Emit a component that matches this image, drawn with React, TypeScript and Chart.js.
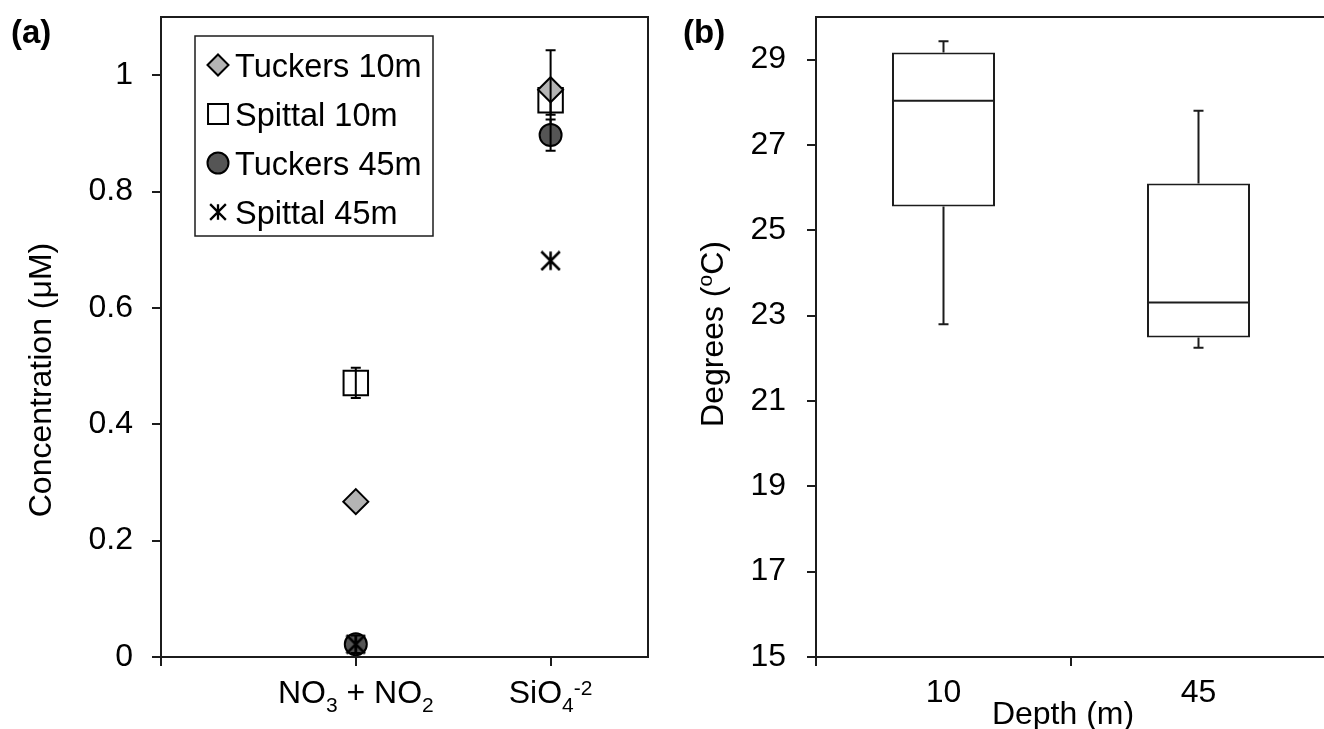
import React, { useEffect, useRef } from 'react';
import { Chart, registerables } from 'chart.js';
import { drawPoint } from 'chart.js/helpers';

Chart.register(...registerables);

const FONT_FAMILY = '"Liberation Sans", Arial, Helvetica, sans-serif';
const FONT_SIZE = 32;
const LEGEND_FONT_SIZE = 32.5;
const TAG_FONT_SIZE = 33;
const TEXT_COLOR = '#000000';
const LINE_COLOR = '#1c1c1c';

type Seg = { t: string; k: 'n' | 'sub' | 'sup'; dy?: number };

// ---- Panel (a): nutrient concentrations ----
const nutrientCategories: Seg[][] = [
  [{ t: 'NO', k: 'n' }, { t: '3', k: 'sub' }, { t: ' + NO', k: 'n' }, { t: '2', k: 'sub' }],
  [{ t: 'SiO', k: 'n' }, { t: '4', k: 'sub' }, { t: '-2', k: 'sup' }],
];
const seriesNames = ['Tuckers 10m', 'Spittal 10m', 'Tuckers 45m', 'Spittal 45m'];
const tuckers10 = [0.267, 0.975];
const tuckers10Err = [0, 0.068];
const spittal10 = [0.471, 0.957];
const spittal10Err = [0.026, 0.025];
const tuckers45 = [0.022, 0.897];
const tuckers45Err = [0.015, 0.027];
const spittal45 = [0.022, 0.681];
const spittal45Err = [0, 0];
const concTicks = [0, 0.2, 0.4, 0.6, 0.8, 1];
const concTickLabels = ['0', '0.2', '0.4', '0.6', '0.8', '1'];
const concTitle: Seg[] = [{ t: 'Concentration (\u03bcM)', k: 'n' }];

// ---- Panel (b): temperature by depth ----
const depthCategories = ['10', '45'];
const tempMin = [22.8, 22.25];
const tempQ1 = [25.56, 22.49];
const tempMedian = [28.04, 23.31];
const tempQ3 = [29.17, 26.1];
const tempMax = [29.43, 27.8];
const tempTicks = [15, 17, 19, 21, 23, 25, 27, 29];
const tempTitle: Seg[] = [{ t: 'Degrees (', k: 'n' }, { t: 'o', k: 'sup', dy: -11 }, { t: 'C)', k: 'n' }];
const depthTitle = 'Depth (m)';

const seriesValues = [tuckers10, spittal10, tuckers45, spittal45];
const seriesErrors = [tuckers10Err, spittal10Err, tuckers45Err, spittal45Err];

function asteriskMarker(size: number, lineWidth: number): HTMLCanvasElement {
  const c = document.createElement('canvas');
  c.width = size;
  c.height = size;
  const g = c.getContext('2d')!;
  g.strokeStyle = '#000';
  g.lineWidth = lineWidth;
  const h = size / 2;
  const r = h - lineWidth / 2;
  g.beginPath();
  g.moveTo(h, h - r);
  g.lineTo(h, h + r);
  g.moveTo(h - r, h - r);
  g.lineTo(h + r, h + r);
  g.moveTo(h + r, h - r);
  g.lineTo(h - r, h + r);
  g.stroke();
  return c;
}

function fontFor(k: string, size: number) {
  const s = k === 'n' ? size : Math.round(size * 0.66);
  return `${s}px ${FONT_FAMILY}`;
}

// Draws text segments centred on cx, with sub/superscript parts.
function drawRich(ctx: CanvasRenderingContext2D, segs: Seg[], cx: number, baseline: number, size: number) {
  ctx.textAlign = 'left';
  ctx.textBaseline = 'alphabetic';
  let total = 0;
  const widths = segs.map((s) => {
    ctx.font = fontFor(s.k, size);
    const w = ctx.measureText(s.t).width;
    total += w;
    return w;
  });
  let x = cx - total / 2;
  segs.forEach((s, i) => {
    ctx.font = fontFor(s.k, size);
    const dy = s.dy !== undefined ? s.dy : s.k === 'sub' ? size * 0.29 : s.k === 'sup' ? -size * 0.25 : 0;
    ctx.fillText(s.t, x, baseline + dy);
    x += widths[i];
  });
}

const markerStyles = [
  { pointStyle: 'rectRot', radius: 12.5, legendRadius: 10.5, fill: '#b4b4b4' },
  { pointStyle: 'rect', radius: 17.3, legendRadius: 14.1, fill: '#ffffff' },
  { pointStyle: 'circle', radius: 11, legendRadius: 10.5, fill: '#555555' },
  { pointStyle: 'asterisk', radius: 10.5, legendRadius: 9, fill: 'rgba(0,0,0,0)' },
];
// higher values are drawn underneath
const drawOrder = [2, 3, 1, 0];

const tickFont = { family: FONT_FAMILY, size: FONT_SIZE };

const gridOpts = {
  drawOnChartArea: false,
  drawTicks: true,
  tickLength: 9,
  color: LINE_COLOR,
  lineWidth: 2,
};

// keep the axis from reserving room for half-labels at its ends
function fixWidth(w: number) {
  return (s: any) => {
    s.width = w;
    s.paddingTop = 0;
    s.paddingBottom = 0;
  };
}
function fixHeight(h: number) {
  return (s: any) => {
    s.height = h;
    s.paddingLeft = 0;
    s.paddingRight = 0;
  };
}

function frame(ctx: CanvasRenderingContext2D, a: { left: number; top: number; right: number; bottom: number }) {
  ctx.save();
  ctx.strokeStyle = LINE_COLOR;
  ctx.lineWidth = 2;
  ctx.strokeRect(a.left, a.top, a.right - a.left, a.bottom - a.top);
  ctx.restore();
}

function rotatedTitle(ctx: CanvasRenderingContext2D, segs: Seg[], x: number, y: number) {
  ctx.save();
  ctx.fillStyle = TEXT_COLOR;
  ctx.translate(x, y);
  ctx.rotate(-Math.PI / 2);
  drawRich(ctx, segs, 0, 0, FONT_SIZE);
  ctx.restore();
}

function panelTag(ctx: CanvasRenderingContext2D, text: string, x: number, y: number) {
  ctx.save();
  ctx.fillStyle = TEXT_COLOR;
  ctx.font = `bold ${TAG_FONT_SIZE}px ${FONT_FAMILY}`;
  ctx.textAlign = 'left';
  ctx.textBaseline = 'alphabetic';
  ctx.fillText(text, x, y);
  ctx.restore();
}

export default function App() {
  const refA = useRef<HTMLCanvasElement>(null);
  const refB = useRef<HTMLCanvasElement>(null);

  useEffect(() => {
    const bigStar = asteriskMarker(21, 2.5);
    const smallStar = asteriskMarker(18, 2.3);

    const datasetsA = seriesNames.map((name, si) => ({
      label: name,
      data: seriesValues[si].map((v, i) => ({ x: i + 1, y: v })),
      pointStyle: si === 3 ? bigStar : markerStyles[si].pointStyle,
      pointRadius: markerStyles[si].radius,
      pointBackgroundColor: markerStyles[si].fill,
      pointBorderColor: '#000',
      pointBorderWidth: 2,
      showLine: false,
      order: drawOrder[si],
    }));

    const errorBars = {
      id: 'errorBars',
      afterDatasetDraw(chart: any, args: any) {
        const errs = seriesErrors[args.index];
        const vals = seriesValues[args.index];
        const y = chart.scales.y;
        const ctx = chart.ctx;
        ctx.save();
        ctx.strokeStyle = '#000';
        ctx.lineWidth = 2;
        args.meta.data.forEach((pt: any, i: number) => {
          const e = errs[i];
          if (!e) return;
          const yt = y.getPixelForValue(vals[i] + e);
          const yb = y.getPixelForValue(vals[i] - e);
          ctx.beginPath();
          ctx.moveTo(pt.x, yt);
          ctx.lineTo(pt.x, yb);
          ctx.moveTo(pt.x - 5, yt);
          ctx.lineTo(pt.x + 5, yt);
          ctx.moveTo(pt.x - 5, yb);
          ctx.lineTo(pt.x + 5, yb);
          ctx.stroke();
        });
        ctx.restore();
      },
    };

    const decorA = {
      id: 'decorA',
      afterDraw(chart: any) {
        const ctx = chart.ctx as CanvasRenderingContext2D;
        const area = chart.chartArea;
        frame(ctx, area);
        // category labels
        ctx.save();
        ctx.fillStyle = TEXT_COLOR;
        nutrientCategories.forEach((segs, i) => {
          const x = chart.scales.x.getPixelForValue(i + 1);
          drawRich(ctx, segs, x, area.bottom + 46, FONT_SIZE);
        });
        ctx.restore();
        rotatedTitle(ctx, concTitle, 51, 380);
        panelTag(ctx, '(a)', 11, 43);

        // legend
        const lx = area.left + 34;
        const ly = area.top + 19;
        ctx.save();
        ctx.fillStyle = '#ffffff';
        ctx.fillRect(lx, ly, 238, 200);
        ctx.strokeStyle = LINE_COLOR;
        ctx.lineWidth = 1.5;
        ctx.strokeRect(lx, ly, 238, 200);
        seriesNames.forEach((name, si) => {
          const cy = ly + 29 + si * 49;
          const cx = lx + 23;
          ctx.fillStyle = markerStyles[si].fill;
          ctx.strokeStyle = '#000';
          ctx.lineWidth = 2;
          drawPoint(ctx, {
            pointStyle: si === 3 ? smallStar : markerStyles[si].pointStyle,
            radius: markerStyles[si].legendRadius,
            rotation: 0,
            borderWidth: 2,
          } as any, cx, cy);
          ctx.fillStyle = TEXT_COLOR;
          ctx.font = `${LEGEND_FONT_SIZE}px ${FONT_FAMILY}`;
          ctx.textAlign = 'left';
          ctx.textBaseline = 'alphabetic';
          ctx.fillText(name, lx + 40, cy + 12);
        });
        ctx.restore();
      },
    };

    const chartA = new Chart(refA.current!, {
      type: 'scatter',
      data: { datasets: datasetsA as any },
      options: {
        responsive: false,
        animation: false,
        devicePixelRatio: 1,
        layout: { padding: { top: 17, right: 14, left: 0, bottom: 0 }, autoPadding: false },
        plugins: { legend: { display: false }, tooltip: { enabled: false } },
        scales: {
          x: {
            type: 'linear',
            min: 0,
            max: 2.5,
            afterBuildTicks: (s: any) => {
              s.ticks = [0, ...nutrientCategories.map((_, i) => i + 1)].map((v) => ({ value: v }));
            },
            afterFit: fixHeight(72),
            ticks: { display: false },
            grid: gridOpts,
            border: { display: false },
          },
          y: {
            min: 0,
            max: 1.1,
            afterBuildTicks: (s: any) => {
              s.ticks = concTicks.map((v) => ({ value: v }));
            },
            afterFit: fixWidth(161),
            ticks: {
              font: tickFont,
              color: TEXT_COLOR,
              padding: 19,
              callback: (_v: any, i: number) => concTickLabels[i],
            },
            grid: gridOpts,
            border: { display: false },
          },
        },
      } as any,
      plugins: [errorBars, decorA],
    });

    const boxPlot = {
      id: 'boxPlot',
      afterDatasetsDraw(chart: any) {
        const ctx = chart.ctx as CanvasRenderingContext2D;
        const y = chart.scales.y;
        const meta = chart.getDatasetMeta(0);
        ctx.save();
        ctx.strokeStyle = LINE_COLOR;
        ctx.lineWidth = 2;
        meta.data.forEach((bar: any, i: number) => {
          const x = bar.x;
          const half = bar.width / 2;
          const yMed = y.getPixelForValue(tempMedian[i]);
          const yQ1 = y.getPixelForValue(tempQ1[i]);
          const yQ3 = y.getPixelForValue(tempQ3[i]);
          const yMin = y.getPixelForValue(tempMin[i]);
          const yMax = y.getPixelForValue(tempMax[i]);
          ctx.beginPath();
          ctx.moveTo(x - half, yMed);
          ctx.lineTo(x + half, yMed);
          ctx.moveTo(x, yQ3);
          ctx.lineTo(x, yMax);
          ctx.moveTo(x - 5, yMax);
          ctx.lineTo(x + 5, yMax);
          ctx.moveTo(x, yQ1);
          ctx.lineTo(x, yMin);
          ctx.moveTo(x - 5, yMin);
          ctx.lineTo(x + 5, yMin);
          ctx.stroke();
        });
        ctx.restore();
      },
    };

    const decorB = {
      id: 'decorB',
      afterDraw(chart: any) {
        const ctx = chart.ctx as CanvasRenderingContext2D;
        const area = chart.chartArea;
        frame(ctx, area);
        ctx.save();
        ctx.fillStyle = TEXT_COLOR;
        ctx.font = `${FONT_SIZE}px ${FONT_FAMILY}`;
        ctx.textAlign = 'center';
        ctx.textBaseline = 'alphabetic';
        depthCategories.forEach((lab, i) => {
          ctx.fillText(lab, chart.scales.x.getPixelForValue(i), area.bottom + 45);
        });
        ctx.fillText(depthTitle, (area.left + area.right) / 2 - 8, area.bottom + 67);
        ctx.restore();
        rotatedTitle(ctx, tempTitle, 61, 334);
        panelTag(ctx, '(b)', 21, 43);
      },
    };

    const chartB = new Chart(refB.current!, {
      type: 'bar',
      data: {
        labels: depthCategories,
        datasets: [
          {
            data: tempQ1.map((q, i) => [q, tempQ3[i]]),
            backgroundColor: '#ffffff',
            borderColor: LINE_COLOR,
            borderWidth: 2,
            borderSkipped: false,
            barPercentage: 0.404,
            categoryPercentage: 1,
          },
        ],
      },
      options: {
        responsive: false,
        animation: false,
        devicePixelRatio: 1,
        layout: { padding: { top: 17, right: 4, left: 0, bottom: 0 }, autoPadding: false },
        plugins: { legend: { display: false }, tooltip: { enabled: false } },
        scales: {
          x: {
            type: 'category',
            offset: true,
            afterFit: fixHeight(72),
            ticks: { display: false },
            grid: { ...gridOpts, offset: true },
            border: { display: false },
          },
          y: {
            min: 15,
            max: 30,
            afterBuildTicks: (s: any) => {
              s.ticks = tempTicks.map((v) => ({ value: v }));
            },
            afterFit: fixWidth(154),
            ticks: { font: tickFont, color: TEXT_COLOR, padding: 21 },
            grid: gridOpts,
            border: { display: false },
          },
        },
      } as any,
      plugins: [boxPlot, decorB],
    });

    return () => {
      chartA.destroy();
      chartB.destroy();
    };
  }, []);

  return (
    <div
      style={{
        position: 'fixed',
        left: 0,
        top: 0,
        width: 1324,
        height: 729,
        overflow: 'hidden',
        background: '#ffffff',
      }}
    >
      <canvas
        ref={refA}
        width={662}
        height={729}
        style={{ position: 'absolute', left: 0, top: 0, width: 662, height: 729 }}
      />
      <canvas
        ref={refB}
        width={668}
        height={729}
        style={{ position: 'absolute', left: 662, top: 0, width: 668, height: 729 }}
      />
    </div>
  );
}
